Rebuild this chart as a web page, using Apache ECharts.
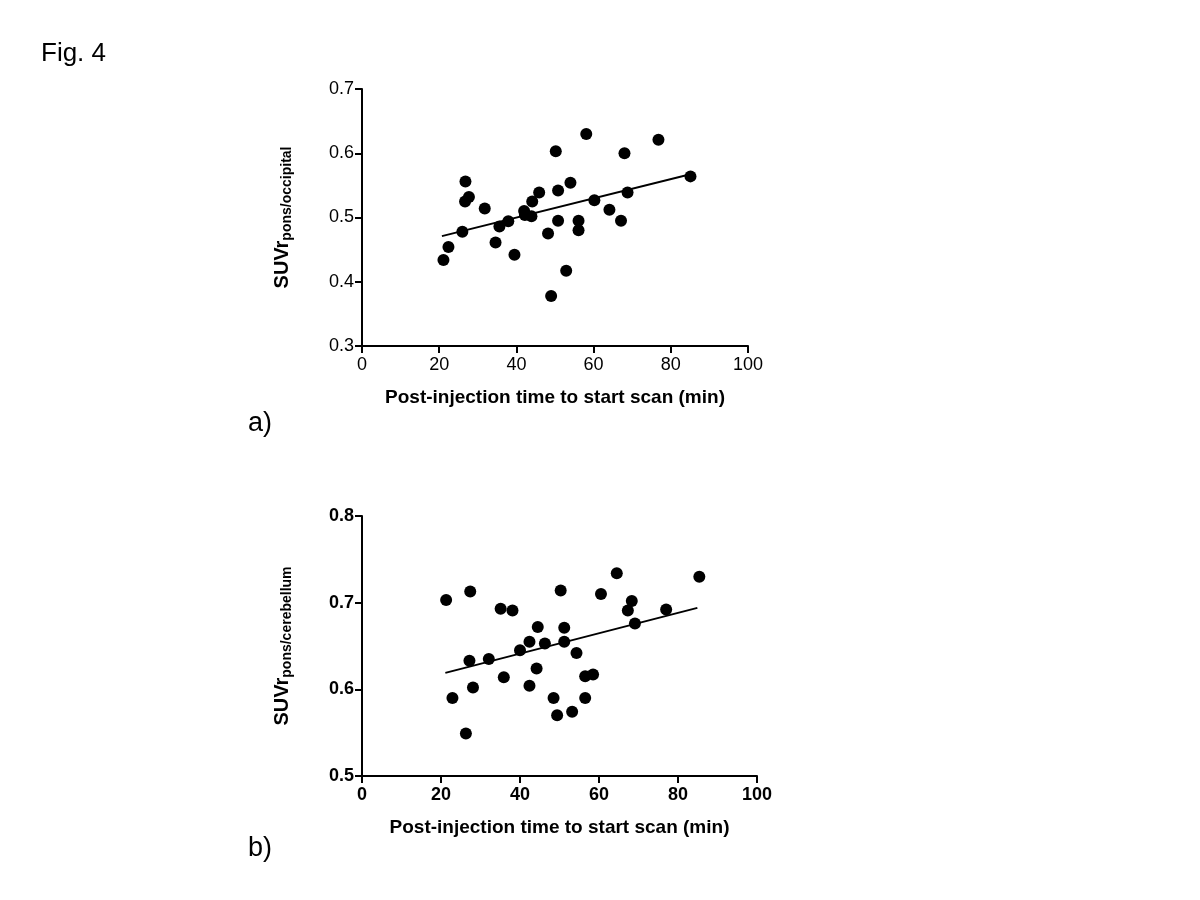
<!DOCTYPE html>
<html>
<head>
<meta charset="utf-8">
<script src="https://cdn.jsdelivr.net/npm/echarts@6/dist/echarts.min.js"></script>
<style>
  html, body { margin: 0; padding: 0; background: #fff; }
</style>
</head>
<body>
<div id="myChart" style="width: 1200px; height: 900px;"></div>
<script>
// panel a: pons / occipital
const timeA = [21.1, 22.4, 26.0, 26.8, 26.7, 27.7, 31.8, 34.6, 35.6, 37.9, 39.5, 42.0, 42.2, 43.9, 44.1, 45.9, 48.2, 49.0, 50.2, 50.8, 50.8, 52.9, 54.0, 56.1, 56.1, 58.1, 60.2, 64.1, 67.1, 68.0, 68.8, 76.8, 85.1];
const suvrA = [0.434, 0.454, 0.478, 0.556, 0.525, 0.532, 0.514, 0.461, 0.486, 0.494, 0.442, 0.510, 0.504, 0.502, 0.525, 0.539, 0.475, 0.378, 0.603, 0.542, 0.495, 0.417, 0.554, 0.495, 0.480, 0.630, 0.527, 0.512, 0.495, 0.600, 0.539, 0.621, 0.564];
const fitA = [[20.7, 0.471], [84.8, 0.567]];

// panel b: pons / cerebellum
const timeB = [21.3, 22.9, 26.3, 27.2, 27.4, 28.1, 32.1, 35.1, 35.9, 38.1, 40.0, 42.4, 42.4, 44.2, 44.5, 46.3, 48.5, 49.4, 50.3, 51.2, 51.2, 53.2, 54.3, 56.5, 56.5, 58.5, 60.5, 64.5, 67.3, 68.3, 69.1, 77.0, 85.4];
const suvrB = [0.703, 0.590, 0.549, 0.633, 0.713, 0.602, 0.635, 0.693, 0.614, 0.691, 0.645, 0.655, 0.604, 0.624, 0.672, 0.653, 0.590, 0.570, 0.714, 0.671, 0.655, 0.574, 0.642, 0.615, 0.590, 0.617, 0.710, 0.734, 0.691, 0.702, 0.676, 0.692, 0.730];
const fitB = [[21.1, 0.619], [84.9, 0.694]];

const xLabel = "Post-injection time to start scan (min)";
const font = "Liberation Sans, Arial";

function pairs(xs, ys) {
  return xs.map((x, i) => [x, ys[i]]);
}

function makeX(idx, bold) {
  return {
    gridIndex: idx,
    type: "value",
    min: 0,
    max: 100,
    interval: 20,
    splitLine: { show: false },
    axisLine: { onZero: false, lineStyle: { color: "#000", width: 2 } },
    axisTick: { length: 7, lineStyle: { color: "#000", width: 2 } },
    axisLabel: {
      color: "#000",
      fontFamily: font,
      fontSize: 18,
      fontWeight: bold ? "bold" : "normal",
      margin: 10,
    },
    name: xLabel,
    nameLocation: "middle",
    nameGap: 42,
    nameTextStyle: {
      color: "#000",
      fontFamily: font,
      fontSize: 19,
      fontWeight: "bold",
    },
  };
}

function makeY(idx, min, max, sub, bold) {
  return {
    gridIndex: idx,
    type: "value",
    min: min,
    max: max,
    interval: 0.1,
    splitLine: { show: false },
    axisLine: { onZero: false, lineStyle: { color: "#000", width: 2 } },
    axisTick: { length: 7, lineStyle: { color: "#000", width: 2 } },
    axisLabel: {
      color: "#000",
      fontFamily: font,
      fontSize: 18,
      fontWeight: bold ? "bold" : "normal",
      margin: 8,
      formatter: (v) => v.toFixed(1),
    },
    name: "{m|SUVr}{s|" + sub + "}",
    nameLocation: "middle",
    nameGap: 68,
    nameTextStyle: {
      rich: {
        m: {
          color: "#000",
          fontFamily: font,
          fontSize: 20,
          fontWeight: "bold",
        },
        s: {
          color: "#000",
          fontFamily: font,
          fontSize: 14,
          fontWeight: "bold",
          padding: [10, 0, 0, 0],
        },
      },
    },
  };
}

let myChart = echarts.init(document.getElementById("myChart"));
myChart.setOption({
  backgroundColor: "#fff",
  animation: false,
  title: [
    { text: "Fig. 4", left: 36, top: 36, textStyle: { fontFamily: font, fontSize: 26, fontWeight: "normal", color: "#000" } },
    { text: "a)", left: 243, top: 405, textStyle: { fontFamily: font, fontSize: 27, fontWeight: "normal", color: "#000" } },
    { text: "b)", left: 243, top: 830, textStyle: { fontFamily: font, fontSize: 27, fontWeight: "normal", color: "#000" } },
  ],
  grid: [
    { left: 362, top: 89, width: 386, height: 257 },
    { left: 362, top: 516, width: 395, height: 260 },
  ],
  xAxis: [makeX(0, false), makeX(1, true)],
  yAxis: [
    makeY(0, 0.3, 0.7, "pons/occipital", false),
    makeY(1, 0.5, 0.8, "pons/cerebellum", true),
  ],
  series: [
    {
      type: "scatter",
      xAxisIndex: 0,
      yAxisIndex: 0,
      symbolSize: 12,
      itemStyle: { color: "#000", opacity: 1 },
      data: pairs(timeA, suvrA),
    },
    {
      type: "line",
      xAxisIndex: 0,
      yAxisIndex: 0,
      showSymbol: false,
      lineStyle: { color: "#000", width: 2 },
      data: fitA,
    },
    {
      type: "scatter",
      xAxisIndex: 1,
      yAxisIndex: 1,
      symbolSize: 12,
      itemStyle: { color: "#000", opacity: 1 },
      data: pairs(timeB, suvrB),
    },
    {
      type: "line",
      xAxisIndex: 1,
      yAxisIndex: 1,
      showSymbol: false,
      lineStyle: { color: "#000", width: 2 },
      data: fitB,
    },
  ],
});
</script>
</body>
</html>
